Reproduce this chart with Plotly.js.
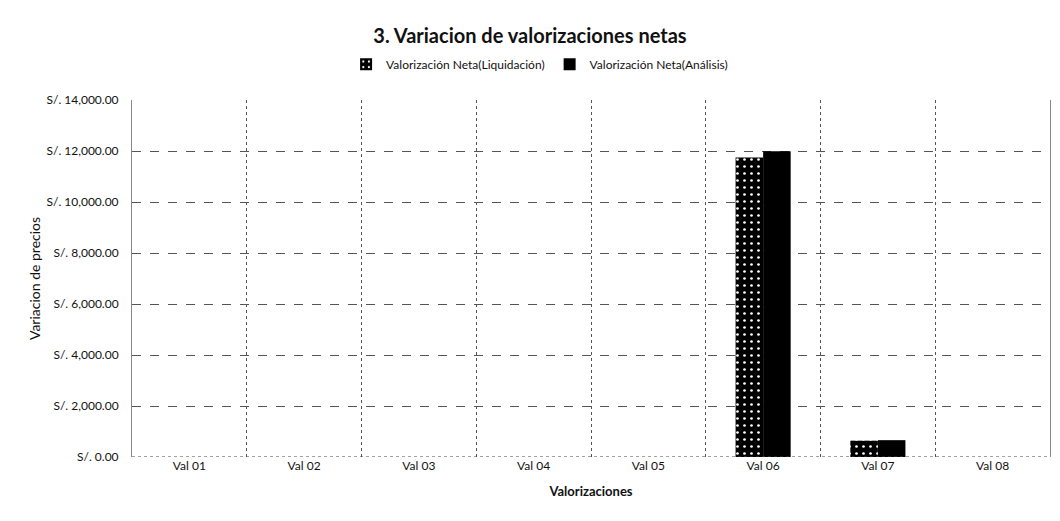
<!DOCTYPE html>
<html>
<head>
<meta charset="utf-8">
<script src="https://cdn.plot.ly/plotly-3.0.1.min.js"></script>
<style>html,body{margin:0;padding:0;background:#fff;}#chart{width:1060px;height:521px;}</style>
</head>
<body>
<div id="chart"></div>
<script>
const categories = ["Val 01","Val 02","Val 03","Val 04","Val 05","Val 06","Val 07","Val 08"];
const liquidacion = [0, 0, 0, 0, 0, 11750, 640, 0];
const analisis = [0, 0, 0, 0, 0, 11990, 660, 0];
const seriesNames = ["Valorización Neta(Liquidación)", "Valorización Neta(Análisis)"];
const yTicks = [0, 2000, 4000, 6000, 8000, 10000, 12000, 14000];
const yTickLabels = ["S/. 0.00", "S/. 2,000.00", "S/. 4,000.00", "S/. 6,000.00", "S/. 8,000.00", "S/. 10,000.00", "S/. 12,000.00", "S/. 14,000.00"];

const font = "Lato, 'Open Sans', 'Liberation Sans', sans-serif";

const traces = [
  {
    type: "bar", x: categories, y: liquidacion, name: seriesNames[0],
    marker: {color: "#000", line: {width: 0},
      pattern: {shape: ".", fgcolor: "#ffffff", bgcolor: "#000000", size: 7, solidity: 0.12}}
  },
  {
    type: "bar", x: categories, y: analisis, name: seriesNames[1],
    marker: {color: "#000", line: {width: 0}}
  },
  {
    type: "scatter", x: [0], y: [0], xaxis: "x2", yaxis: "y", mode: "markers",
    marker: {opacity: 0}, showlegend: false, hoverinfo: "skip"
  }
];

const layout = {
  width: 1060, height: 521,
  margin: {l: 132, r: 10, t: 100, b: 64},
  paper_bgcolor: "#fff", plot_bgcolor: "#fff",
  font: {family: font, color: "#111", size: 12},
  title: {text: "<b>3. Variacion de valorizaciones netas</b>", x: 0.5, xanchor: "center", y: 0.93, yanchor: "middle",
    font: {family: font, size: 20, color: "#111"}},
  showlegend: true,
  legend: {orientation: "h", x: 0.444, xanchor: "center", y: 1.1, yanchor: "middle",
    font: {family: font, size: 12, color: "#111"}, itemwidth: 30, tracegroupgap: 0},
  barmode: "group", bargap: 0.52, bargroupgap: 0,
  xaxis: {
    type: "category", range: [-0.5, 7.5], showgrid: false, zeroline: false,
    showline: false, ticks: "", tickfont: {family: font, size: 12, color: "#111"},
    title: {text: "<b>Valorizaciones</b>", font: {family: font, size: 13, color: "#111"}, standoff: 14}
  },
  xaxis2: {
    overlaying: "x", type: "linear", range: [-0.5, 7.5], tick0: 0.5, dtick: 1,
    showticklabels: false, showgrid: true, gridcolor: "#555", griddash: "dot", gridwidth: 1,
    zeroline: false, showline: false, ticks: ""
  },
  yaxis: {
    range: [0, 14000], tickmode: "array", tickvals: yTicks, ticktext: yTickLabels,
    showgrid: true, gridcolor: "#555", griddash: "dash", gridwidth: 1,
    zeroline: false, showline: true, linecolor: "#888", linewidth: 1, mirror: true,
    ticks: "", ticklabelstandoff: 10, tickfont: {family: font, size: 12, color: "#111"},
    title: {text: "Variacion de precios", font: {family: font, size: 14, color: "#111"}, standoff: 2}
  },
  shapes: [
    {type: "line", xref: "paper", yref: "y", x0: 0, x1: 1, y0: 0, y1: 0, line: {color: "#444", width: 1, dash: "dot"}}
  ]
};

Plotly.newPlot("chart", traces, layout, {displayModeBar: false, staticPlot: true});
</script>
</body>
</html>
